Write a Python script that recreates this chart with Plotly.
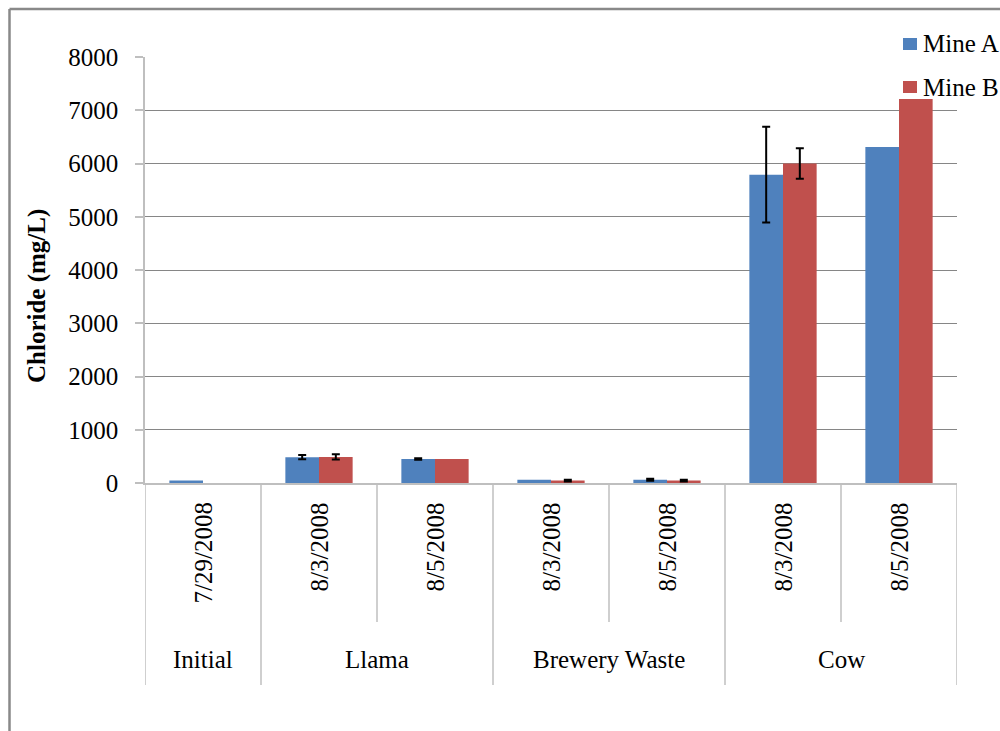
import plotly.graph_objects as go

# Sample dates and treatment groups
dates = ["7/29/2008", "8/3/2008", "8/5/2008", "8/3/2008", "8/5/2008", "8/3/2008", "8/5/2008"]
groups = ["Initial", "Llama", "Brewery Waste", "Cow"]
group_sizes = [1, 2, 2, 2]

# Chloride concentrations (mg/L)
mine_a = [45, 485, 450, 60, 60, 5790, 6310]
mine_b = [None, 490, 450, 45, 45, 6000, 7210]

# Error bar half-widths (mg/L); None = no error bar
mine_a_err = [None, 40, 15, None, 20, 900, None]
mine_b_err = [None, 50, None, 15, 15, 285, None]

FONT = "Liberation Serif"
BLUE = "#4F81BD"
RED = "#C0504D"
AXIS_GRAY = "#BFBFBF"
GRID_GRAY = "#868686"
BAR_W = 0.29

# plot area in pixels (for placing paper-referenced decorations)
L, R, T, B = 145, 957, 57, 483
W, H = R - L, B - T


def px(xp):
    return (xp - L) / W


def py(yp):
    return (B - yp) / H


xs = list(range(len(dates)))

fig = go.Figure()
series = [("Mine A", mine_a, mine_a_err, BLUE, -BAR_W),
          ("Mine B", mine_b, mine_b_err, RED, 0.0)]
for name, vals, errs, color, off in series:
    fig.add_trace(go.Bar(
        x=xs, y=vals, name=name, width=BAR_W, offset=off,
        marker=dict(color=color, line=dict(width=0)),
    ))
    # error bars only where a value exists
    ex = [i + off + BAR_W / 2 for i, e in enumerate(errs) if e is not None]
    ey = [vals[i] for i, e in enumerate(errs) if e is not None]
    ee = [e for e in errs if e is not None]
    fig.add_trace(go.Scatter(
        x=ex, y=ey, mode="markers", marker=dict(size=0.1, color="rgba(0,0,0,0)"),
        error_y=dict(type="data", array=ee, color="black", thickness=2, width=4),
        showlegend=False, hoverinfo="skip",
    ))

shapes = []
annotations = []

# date labels, rotated, hanging below the axis
for i, d in enumerate(dates):
    annotations.append(dict(
        x=i, xref="x", y=py(501), yref="paper", text=d, showarrow=False,
        textangle=-90, xanchor="center", yanchor="top",
        font=dict(family=FONT, size=25, color="black"),
    ))

# group labels and dividers
start = 0
group_edges = [-0.5]
inner_edges = []
for g, n in zip(groups, group_sizes):
    centre = start + (n - 1) / 2
    annotations.append(dict(
        x=centre, xref="x", y=py(659), yref="paper", text=g, showarrow=False,
        xanchor="center", yanchor="middle",
        font=dict(family=FONT, size=25, color="black"),
    ))
    for k in range(1, n):
        inner_edges.append(start + k - 0.5)
    start += n
    group_edges.append(start - 0.5)

for e in inner_edges:
    shapes.append(dict(type="line", xref="x", yref="paper", x0=e, x1=e,
                       y0=0, y1=py(622), line=dict(color=AXIS_GRAY, width=1.5)))
for e in group_edges:
    shapes.append(dict(type="line", xref="x", yref="paper", x0=e, x1=e,
                       y0=0, y1=py(685), line=dict(color=AXIS_GRAY, width=1.5)))

# y-axis title
annotations.append(dict(
    x=px(37), xref="paper", y=py(296), yref="paper", text="<b>Chloride (mg/L)</b>",
    showarrow=False, textangle=-90, xanchor="center", yanchor="middle",
    font=dict(family=FONT, size=25, color="black"),
))

# legend entries
for name, color, yc in [("Mine A", BLUE, 44), ("Mine B", RED, 87)]:
    shapes.append(dict(type="rect", xref="paper", yref="paper",
                       x0=px(903), x1=px(917), y0=py(yc + 6), y1=py(yc - 6),
                       fillcolor=color, line=dict(width=0)))
    annotations.append(dict(
        x=px(921), xref="paper", y=py(yc), yref="paper", text=name, showarrow=False,
        xanchor="left", yanchor="middle",
        font=dict(family=FONT, size=25, color="black"),
    ))

# chart frame (left and top edges)
shapes.append(dict(type="line", xref="paper", yref="paper",
                   x0=px(9.5), x1=px(9.5), y0=py(760), y1=py(9),
                   line=dict(color="#898989", width=2.5)))
shapes.append(dict(type="line", xref="paper", yref="paper",
                   x0=px(9.5), x1=px(1020), y0=py(9), y1=py(9),
                   line=dict(color="#898989", width=2.5)))

fig.update_layout(
    width=1000, height=731,
    margin=dict(l=L, r=1000 - R, t=T, b=731 - B),
    paper_bgcolor="white", plot_bgcolor="white",
    barmode="overlay",
    showlegend=False,
    font=dict(family=FONT, size=25, color="black"),
    shapes=shapes, annotations=annotations,
    xaxis=dict(
        range=[-0.5, len(dates) - 0.5], showticklabels=False, ticks="",
        showgrid=False, zeroline=False, showline=True, linecolor=AXIS_GRAY, linewidth=1.5,
    ),
    yaxis=dict(
        range=[0, 8000], dtick=1000, tickformat="d",
        showgrid=True, gridcolor=GRID_GRAY, gridwidth=1,
        zeroline=False, showline=True, linecolor=AXIS_GRAY, linewidth=1.5,
        ticks="outside", ticklen=8, tickcolor=AXIS_GRAY, tickwidth=1.5,
        ticklabelstandoff=12,
        tickfont=dict(family=FONT, size=25, color="black"),
    ),
)

fig.write_html("out.html")
